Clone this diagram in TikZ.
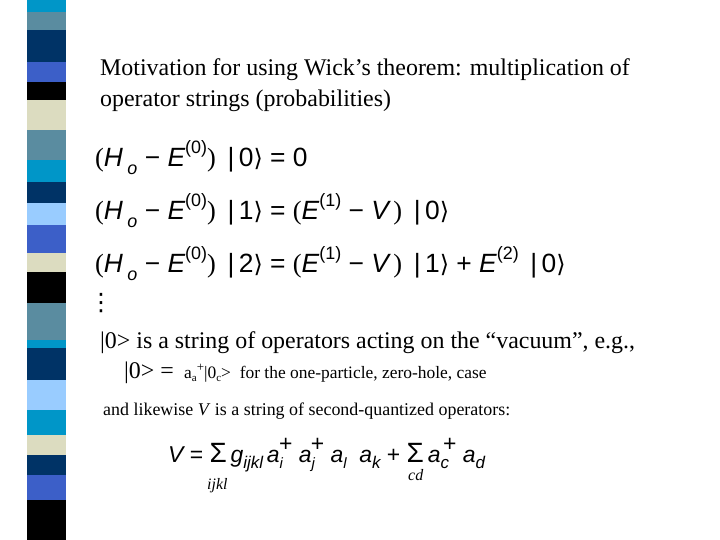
\documentclass[tikz,border=0pt]{standalone}
\usepackage{fontspec}
\setmainfont{Liberation Serif}
\newfontfamily\ar{Liberation Sans}
\newfontfamily\dv{DejaVu Sans}
\newcommand{\I}[1]{{\itshape #1}}
\newcommand{\up}[1]{\raisebox{0.5em}{\fontsize{18}{18}\selectfont #1}}
\newcommand{\dn}[1]{\raisebox{-0.3em}{\fontsize{18}{18}\selectfont #1}}
\newcommand{\ket}[1]{\,|\,#1{\dv\fontsize{24}{24}\selectfont ⟩}}
\newcommand{\Par}[1]{{\rmfamily #1}}
\begin{document}
\begin{tikzpicture}[x=1bp,y=-1bp,
 txt/.style={anchor=base west,inner sep=0pt,font=\fontsize{24}{28}\selectfont},
 eq/.style={anchor=base west,inner sep=0pt,font=\ar\fontsize{26.5}{30}\selectfont},
 sm/.style={anchor=base west,inner sep=0pt,font=\fontsize{18}{20}\selectfont}]
\useasboundingbox (0,0) rectangle (720,540);
\definecolor{cA}{HTML}{0096C8}\definecolor{cB}{HTML}{5A8CA0}\definecolor{cC}{HTML}{003366}
\definecolor{cD}{HTML}{3C5FC8}\definecolor{cE}{HTML}{000000}\definecolor{cF}{HTML}{DCDCC0}
\definecolor{cG}{HTML}{99CCFF}
\foreach \a/\b/\c in {0/12/cA,12/30/cB,30/62/cC,62/82/cD,82/100/cE,100/130/cF,130/160/cB,160/182/cA,182/203/cC,203/225/cG,225/253/cD,253/272/cF,272/303/cE,303/340/cB,340/348/cA,348/380/cC,380/410/cG,410/435/cA,435/455/cF,455/475/cC,475/500/cD,500/540/cE}
  \fill[\c] (27,\a) rectangle (66,\b);
\node[txt] (t1) at (100,76) {Motivation for using Wick’s theorem: multiplication of};
\node[txt] (t2) at (100,107) {operator strings (probabilities)};
\node[eq] (e1) at (95,167) {\Par{(}\I{H}\,\dn{\I{o}} − \I{E}\up{(0)}\Par{)} \ket{0} = 0};
\node[eq] (e2) at (95,220) {\Par{(}\I{H}\,\dn{\I{o}} − \I{E}\up{(0)}\Par{)} \ket{1} = \Par{(}\I{E}\up{(1)} − \I{V}\,\Par{)} \ket{0}};
\node[eq] (e3) at (95,273) {\Par{(}\I{H}\,\dn{\I{o}} − \I{E}\up{(0)}\Par{)} \ket{2} = \Par{(}\I{E}\up{(1)} − \I{V}\,\Par{)} \ket{1} + \I{E}\up{(2)} \ket{0}};
\node[anchor=base west,inner sep=0pt,font=\dv\fontsize{24}{24}\selectfont] (dots) at (89,310) {⋮};
\node[txt] (t3) at (100,348) {|0> is a string of operators acting on the “vacuum”, e.g.,};
\node[txt] (t4) at (124,378) {|0> = \fontsize{17.5}{18}\selectfont\ a\raisebox{-0.2em}{\fontsize{11}{11}\selectfont a}\raisebox{0.4em}{\fontsize{13}{13}\selectfont +}|0\raisebox{-0.2em}{\fontsize{11}{11}\selectfont c}>\ \ for the one-particle, zero-hole, case};
\node[sm] (t5) at (103,415) {and likewise \textit{V} is a string of second-quantized operators:};
\node[eq,font=\ar\fontsize{23}{26}\selectfont] (v) at (168,462) {\I{V} = {\fontsize{28}{28}\selectfont Σ}\,\I{g}\raisebox{-0.3em}{\fontsize{17}{17}\selectfont\I{ijkl}}\,\I{a}\raisebox{-0.3em}{\fontsize{15}{15}\selectfont\I{i}}\kern-4pt\raisebox{0.45em}{+}\;\I{a}\raisebox{-0.3em}{\fontsize{15}{15}\selectfont\I{j}}\kern-4pt\raisebox{0.45em}{+}\;\I{a}\raisebox{-0.3em}{\fontsize{15}{15}\selectfont\I{l}}\;\;\I{a}\raisebox{-0.3em}{\fontsize{17}{17}\selectfont\I{k}} + {\fontsize{28}{28}\selectfont Σ}\,\I{a}\raisebox{-0.3em}{\fontsize{17}{17}\selectfont\I{c}}\kern-6pt\raisebox{0.45em}{+}\;\I{a}\raisebox{-0.3em}{\fontsize{17}{17}\selectfont\I{d}}};
\node[anchor=base west,inner sep=0pt,font=\fontsize{16}{18}\selectfont\itshape] (s1) at (207,489) {ijkl};
\node[anchor=base west,inner sep=0pt,font=\fontsize{16}{18}\selectfont\itshape] (s2) at (408,480) {cd};
\end{tikzpicture}
\end{document}
